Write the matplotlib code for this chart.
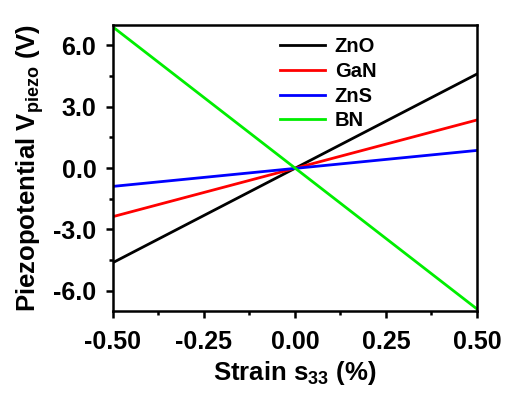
import numpy as np
import matplotlib.pyplot as plt
from matplotlib.ticker import MultipleLocator

plt.rcParams['font.family'] = ['Liberation Sans', 'DejaVu Sans']
plt.rcParams['font.weight'] = 'bold'
plt.rcParams['mathtext.fontset'] = 'custom'
plt.rcParams['mathtext.rm'] = 'Liberation Sans:bold'
plt.rcParams['mathtext.bf'] = 'Liberation Sans:bold'
plt.rcParams['mathtext.default'] = 'bf'

# strain end points (%)
strain = [-0.5, 0.5]
# piezopotential (V) at the end points
znO = [-4.63, 4.6]
gaN = [-2.38, 2.35]
znS = [-0.9, 0.86]
bN = [6.9, -6.9]

names = ['ZnO', 'GaN', 'ZnS', 'BN']
colors = ['black', 'red', 'blue', '#00ee00']

fig = plt.figure(figsize=(5.09, 3.94), dpi=100)
ax = fig.add_axes([0.222, 0.2107, 0.715, 0.7258])

for y, n, c in zip([znO, gaN, znS, bN], names, colors):
    ax.plot(strain, y, color=c, lw=2, label=n)

ax.set_xlim(-0.5, 0.5)
ax.set_ylim(-7, 7)
ax.xaxis.set_minor_locator(MultipleLocator(0.125))
ax.yaxis.set_minor_locator(MultipleLocator(1.5))
ax.set_xticks([-0.5, -0.25, 0, 0.25, 0.5])
ax.set_xticklabels(['-0.50', '-0.25', '0.00', '0.25', '0.50'])
ax.set_yticks([-6, -3, 0, 3, 6])
ax.set_yticklabels(['-6.0', '-3.0', '0.0', '3.0', '6.0'])

for s in ax.spines.values():
    s.set_linewidth(1.8)
ax.tick_params(which='major', direction='out', length=5, width=1.8, labelsize=18, pad=7)
ax.tick_params(axis='x', which='major', pad=9)
ax.tick_params(which='minor', direction='out', length=3, width=1.8)

ax.set_xlabel('Strain s$_{33}$ (%)', fontsize=18.5, fontweight='bold', labelpad=3)
ax.set_ylabel('Piezopotential V$_{piezo}$ (V)', fontsize=18.5, fontweight='bold', labelpad=5)

leg = ax.legend(loc='upper left', bbox_to_anchor=(0.41, 1.02), frameon=False,
                fontsize=14.5, handlelength=2.2, handletextpad=0.5, labelspacing=0.28)
for t in leg.get_texts():
    t.set_fontweight('bold')

fig.savefig('out.png', dpi=100)
